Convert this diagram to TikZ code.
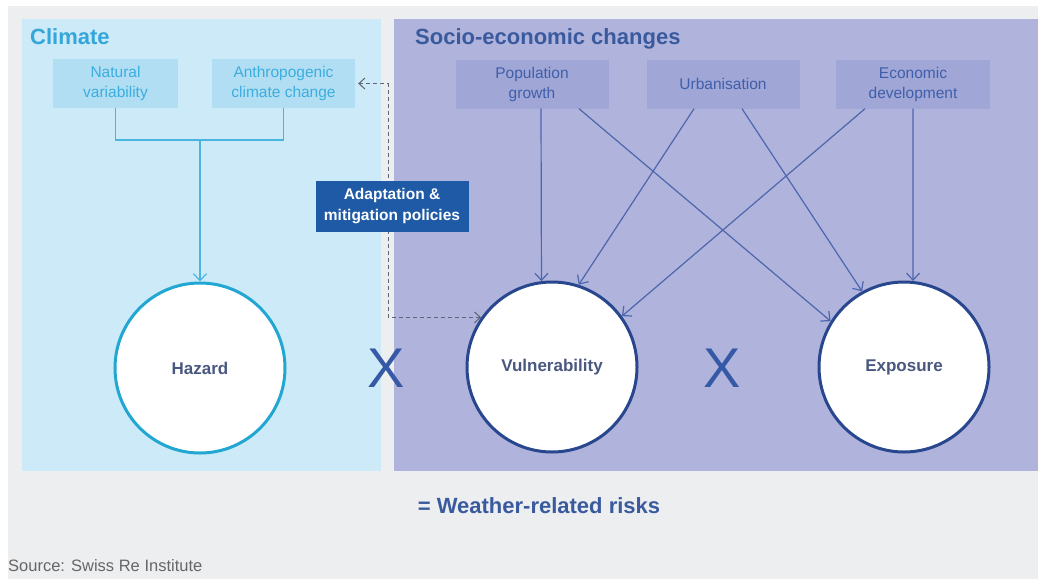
\documentclass[tikz,border=0pt]{standalone}
\usepackage{fontspec}
\setmainfont{Liberation Sans}
\usetikzlibrary{arrows.meta}
\definecolor{bgc}{HTML}{EDEEF0}
\definecolor{climpanel}{HTML}{CCEAF8}
\definecolor{climboxc}{HTML}{B2DEF3}
\definecolor{climtitle}{HTML}{35A6DA}
\definecolor{climtext}{HTML}{3AAEDF}
\definecolor{clines}{HTML}{4AB5DE}
\definecolor{hazc}{HTML}{22A7D2}
\definecolor{socpanel}{HTML}{B0B3DC}
\definecolor{socboxc}{HTML}{A0A6D6}
\definecolor{soctitle}{HTML}{3A5A9E}
\definecolor{soctext}{HTML}{3F5FAA}
\definecolor{arrowc}{HTML}{4D66AC}
\definecolor{circc}{HTML}{28478E}
\definecolor{circtext}{HTML}{4A5880}
\definecolor{xc}{HTML}{3559A6}
\definecolor{adac}{HTML}{1E5AA5}
\definecolor{dashc}{HTML}{5F6478}
\definecolor{srcc}{HTML}{666666}
\begin{document}
\begin{tikzpicture}[x=1pt,y=-1pt,
  climbox/.style={fill=climboxc, text=climtext, minimum height=49pt, inner sep=0pt, align=center, font=\fontsize{15.5}{20}\selectfont},
  socbox/.style={fill=socboxc, text=soctext, minimum height=49pt, inner sep=0pt, align=center, font=\fontsize{15.5}{20}\selectfont},
  circ/.style={circle, line width=3pt, fill=white, minimum size=170pt, inner sep=0pt, text=circtext, font=\bfseries\fontsize{17}{20}\selectfont},
  arr/.style={draw=arrowc, line width=1.2pt, -{Straight Barb[length=7pt,width=13pt]}},
  cline/.style={draw=clines, line width=1.2pt},
  carr/.style={cline, -{Straight Barb[length=7pt,width=13pt]}},
  dline/.style={draw=dashc, line width=1pt, dash pattern=on 4pt off 3pt, {Straight Barb[length=6pt,width=11pt]}-{Straight Barb[length=6pt,width=11pt]}},
  xmark/.style={text=xc, inner sep=0pt, font=\fontsize{56}{60}\selectfont},
  ttl/.style={anchor=base west, inner sep=0pt, font=\bfseries\fontsize{22}{26}\selectfont}
]
\useasboundingbox (0,0) rectangle (1038,579);
\fill[white] (0,0) rectangle (1038,579);
\fill[bgc] (8,6) rectangle (1038,579);
\fill[climpanel] (22,19) rectangle (381,471);
\fill[socpanel] (394,19) rectangle (1038,471);

\node[ttl, text=climtitle] (ct) at (30,44) {Climate};
\node[ttl, text=soctitle] (st) at (415,44) {Socio-economic changes};

\node[climbox, minimum width=125pt] (nat) at (115.5,83.5) {Natural\\variability};
\node[climbox, minimum width=143pt] (anth) at (283.5,83.5) {Anthropogenic\\climate change};
\node[socbox, minimum width=153pt] (pop) at (532,84) {Population\\growth};
\node[socbox, minimum width=153pt] (urb) at (723,84) {Urbanisation};
\node[socbox, minimum width=154pt] (eco) at (913,84) {Economic\\development};

\node[circ, draw=hazc] (haz) at (200,368) {Hazard};
\node[circ, draw=circc] (vul) at (552,367) {Vulnerability};
\node[circ, draw=circc] (exp) at (904,367) {Exposure};

\node[xmark] (x1) at (386,368) {X};
\node[xmark] (x2) at (722,368) {X};

% climate tree
\coordinate (cj) at (200,140);
\draw[cline] (nat.south) |- (cj) -| (anth.south);
\draw[carr] (cj) -- (haz.north);

% socio-economic arrows
\draw[arr] ([xshift=9pt]pop.south) -- (vul.97);
\draw[arr] ([xshift=47pt]pop.south) -- (exp.148);
\draw[arr] ([xshift=-29pt]urb.south) -- (vul.72);
\draw[arr] ([xshift=19pt]urb.south) -- (exp.119);
\draw[arr] ([xshift=-48pt]eco.south) -- (vul.36);
\draw[arr] (eco.south) -- (exp.84);

% policies dashed link
\coordinate (d1) at (388,83.5);
\coordinate (d2) at (d1 |- vul.145);
\draw[dline] ([xshift=3pt]anth.east) -- (d1) -- (d2) -- (vul.145);
\node[fill=adac, text=white, minimum width=153pt, minimum height=51pt, inner sep=0pt, align=center, font=\bfseries\fontsize{15.5}{21}\selectfont] (ada) at (392,206.5) {Adaptation \&\\mitigation policies};

\node[text=soctitle, inner sep=0pt, font=\bfseries\fontsize{22}{26}\selectfont] (wr) at (539,506) {= Weather-related risks};
\node[anchor=base west, inner sep=0pt, text=srcc, font=\fontsize{16.5}{19}\selectfont] (src) at (8,571) {Source: Swiss Re Institute};
\end{tikzpicture}
\end{document}
